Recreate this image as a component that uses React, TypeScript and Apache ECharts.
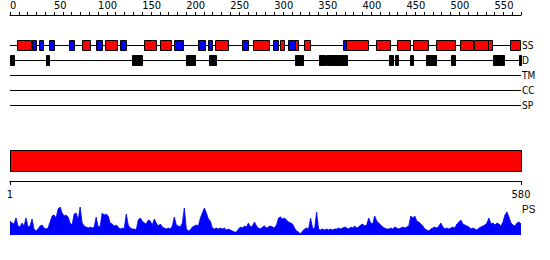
import React, { useEffect, useRef } from "react";
import * as echarts from "echarts";

const seqLength = 580;
const rowNames = ["SS", "D", "TM", "CC", "SP"];
// secondary structure: [start, end, kind] kind 0 = helix (red), 1 = strand (blue)
const ssStarts = [8, 25, 33, 44, 67, 82, 98, 108, 125, 152, 170, 186, 213, 225, 233, 263, 276, 298, 307, 315, 324, 334, 378, 381, 415, 439, 457, 484, 511, 527, 543, 567];
const ssEnds = [24, 29, 38, 50, 73, 91, 104, 122, 132, 166, 183, 196, 221, 229, 247, 270, 294, 304, 311, 324, 327, 340, 381, 406, 431, 454, 475, 505, 526, 543, 547, 579];
const ssKinds = [0, 1, 1, 1, 1, 0, 1, 0, 1, 0, 0, 1, 1, 1, 0, 1, 0, 1, 0, 1, 0, 0, 1, 0, 0, 0, 0, 0, 0, 0, 0, 0];
// disorder segments
const disStarts = [0, 41, 139, 200, 226, 324, 351, 359, 430, 437, 454, 472, 501, 548, 578];
const disEnds = [5, 44, 150, 210, 234, 332, 358, 382, 435, 440, 457, 483, 505, 561, 580];
// domain bar
const domainStart = [1];
const domainEnd = [580];
// PS profile, evenly spaced along the sequence
const psValues = [
  14, 12, 11, 17, 9, 8, 12, 9, 17, 8, 9, 16, 6, 4, 6, 9, 10, 7, 6, 7,
  13, 19, 20, 17, 26, 28, 22, 19, 20, 18, 12, 10, 21, 22, 15, 28, 12, 9, 8, 7,
  8, 7, 8, 18, 8, 9, 22, 20, 21, 19, 12, 11, 9, 10, 8, 6, 7, 6, 21, 10,
  7, 6, 6, 5, 15, 17, 14, 12, 11, 15, 14, 10, 16, 12, 9, 11, 8, 7, 6, 7,
  6, 9, 18, 10, 9, 8, 12, 27, 6, 4, 5, 8, 9, 10, 9, 17, 22, 27, 22, 16,
  14, 7, 6, 7, 6, 7, 6, 7, 5, 6, 5, 4, 3, 3, 6, 8, 7, 9, 8, 12,
  8, 9, 13, 9, 7, 6, 8, 9, 7, 8, 9, 8, 7, 10, 17, 18, 16, 17, 15, 13,
  12, 11, 7, 4, 3, 1, 4, 6, 7, 6, 17, 7, 6, 23, 6, 5, 6, 5, 6, 5,
  6, 5, 6, 6, 7, 6, 7, 8, 7, 6, 8, 7, 9, 7, 8, 10, 11, 9, 10, 17,
  12, 11, 19, 14, 12, 10, 8, 7, 6, 6, 7, 6, 8, 7, 6, 7, 8, 7, 8, 9,
  19, 17, 19, 14, 13, 11, 9, 6, 5, 4, 6, 7, 8, 7, 9, 12, 8, 6, 7, 6,
  7, 8, 7, 11, 13, 15, 11, 10, 9, 8, 6, 7, 6, 5, 7, 8, 9, 10, 12, 17,
  11, 12, 10, 12, 11, 9, 13, 20, 23, 18, 12, 10, 9, 12, 13, 11,
];

const FONT = "'DejaVu Sans Condensed', 'DejaVu Sans', sans-serif";

export default function App() {
  const ref = useRef<HTMLDivElement>(null);
  useEffect(() => {
    if (!ref.current) return;
    const chart = echarts.init(ref.current, null, { renderer: "svg" });
    const ssData = ssStarts.map((s, i) => [s, ssEnds[i], 2, ssKinds[i]]);
    const disData = disStarts.map((s, i) => [s, disEnds[i], 3, 2]);
    const rowData = rowNames.map((_, i) => [0, seqLength, i + 2]);
    const n = psValues.length;
    const psData = psValues.map((v, i) => [1 + (i * (seqLength - 1)) / (n - 1), v]);
    const colors = ["#ff0000", "#0000ff", "#000000"];

    const boxRender = (params: any, api: any) => {
      const s = api.coord([api.value(0), api.value(2)]);
      const e = api.coord([api.value(1), api.value(2)]);
      const x = Math.round(s[0]) + 0.5;
      const w = Math.max(1, Math.round(e[0]) - Math.round(s[0]));
      const y = Math.round(s[1]) - 4.5;
      return {
        type: "rect",
        shape: { x, y, width: w, height: 10 },
        style: { fill: colors[api.value(3)], stroke: "#000", lineWidth: 1 },
      };
    };

    const option: any = {
      animation: false,
      textStyle: { fontFamily: FONT },
      grid: [
        { left: 10, width: 511, top: 15, height: 90 },
        { left: 10, width: 511, top: 150, height: 31 },
        { left: 10, width: 511, top: 205, height: 30 },
      ],
      xAxis: [
        {
          gridIndex: 0,
          type: "value",
          position: "top",
          min: 0,
          max: seqLength,
          interval: 10,
          axisLine: { show: true, onZero: false, lineStyle: { color: "#000", width: 1 } },
          axisTick: { show: true, length: 3, lineStyle: { color: "#000" } },
          splitLine: { show: false },
          axisLabel: {
            formatter: (v: number) => (v % 50 === 0 ? String(v) : ""),
            align: "left",
            margin: 4,
            fontSize: 11,
            color: "#000",
            fontFamily: FONT,
          },
        },
        {
          gridIndex: 1,
          type: "value",
          position: "bottom",
          min: 1,
          max: seqLength,
          axisLine: { show: true, onZero: false, lineStyle: { color: "#000", width: 1 } },
          axisTick: { show: true, length: 4, customValues: [1, seqLength], lineStyle: { color: "#000" } },
          splitLine: { show: false },
          axisLabel: {
            customValues: [1, seqLength],
            margin: 8,
            fontSize: 11,
            color: "#000",
            fontFamily: FONT,
          },
        },
        { gridIndex: 2, type: "value", min: 1, max: seqLength, show: false },
      ],
      yAxis: [
        {
          gridIndex: 0,
          type: "value",
          min: 0,
          max: 6,
          interval: 1,
          inverse: true,
          position: "right",
          axisLine: { show: false },
          axisTick: { show: false },
          splitLine: { show: false },
          axisLabel: {
            formatter: (v: number) => rowNames[v - 2] ?? "",
            margin: 1,
            fontSize: 10,
            color: "#000",
            fontFamily: FONT,
          },
        },
        { gridIndex: 1, type: "value", min: 0, max: 31, inverse: true, show: false },
        { gridIndex: 2, type: "value", min: 0, max: 30, show: false },
      ],
      graphic: [
        {
          type: "text",
          left: 522,
          top: 204,
          style: { text: "PS", fontSize: 10, fill: "#000", font: `10px ${FONT}` },
        },
      ],
      series: [
        {
          type: "custom",
          xAxisIndex: 0,
          yAxisIndex: 0,
          data: rowData,
          encode: { x: [0, 1], y: 2 },
          renderItem: (params: any, api: any) => {
            const s = api.coord([api.value(0), api.value(2)]);
            const e = api.coord([api.value(1), api.value(2)]);
            const y = Math.round(s[1]) + 0.5;
            return {
              type: "line",
              shape: { x1: s[0], y1: y, x2: e[0], y2: y },
              style: { stroke: "#000", lineWidth: 1 },
            };
          },
        },
        {
          type: "custom",
          xAxisIndex: 0,
          yAxisIndex: 0,
          data: ssData,
          encode: { x: [0, 1], y: 2 },
          renderItem: boxRender,
        },
        {
          type: "custom",
          xAxisIndex: 0,
          yAxisIndex: 0,
          data: disData,
          encode: { x: [0, 1], y: 2 },
          renderItem: boxRender,
        },
        {
          type: "custom",
          xAxisIndex: 1,
          yAxisIndex: 1,
          data: domainStart.map((s, i) => [s, domainEnd[i], 0, 21]),
          encode: { x: [0, 1], y: [2, 3] },
          renderItem: (params: any, api: any) => {
            const a = api.coord([api.value(0), api.value(2)]);
            const b = api.coord([api.value(1), api.value(3)]);
            return {
              type: "rect",
              shape: {
                x: Math.round(a[0]) + 0.5,
                y: Math.round(a[1]) + 0.5,
                width: Math.round(b[0] - a[0]),
                height: Math.round(b[1] - a[1]),
              },
              style: { fill: "#ff0000", stroke: "#000", lineWidth: 1 },
            };
          },
        },
        {
          type: "line",
          xAxisIndex: 2,
          yAxisIndex: 2,
          data: psData,
          showSymbol: false,
          symbol: "none",
          lineStyle: { color: "#0000ff", width: 0.8 },
          areaStyle: { color: "#0000ff", opacity: 1 },
        },
      ],
    };
    chart.setOption(option);
    return () => chart.dispose();
  }, []);
  return (
    <div
      ref={ref}
      style={{ position: "fixed", left: 0, top: 0, width: 550, height: 260, background: "#fff" }}
    />
  );
}
